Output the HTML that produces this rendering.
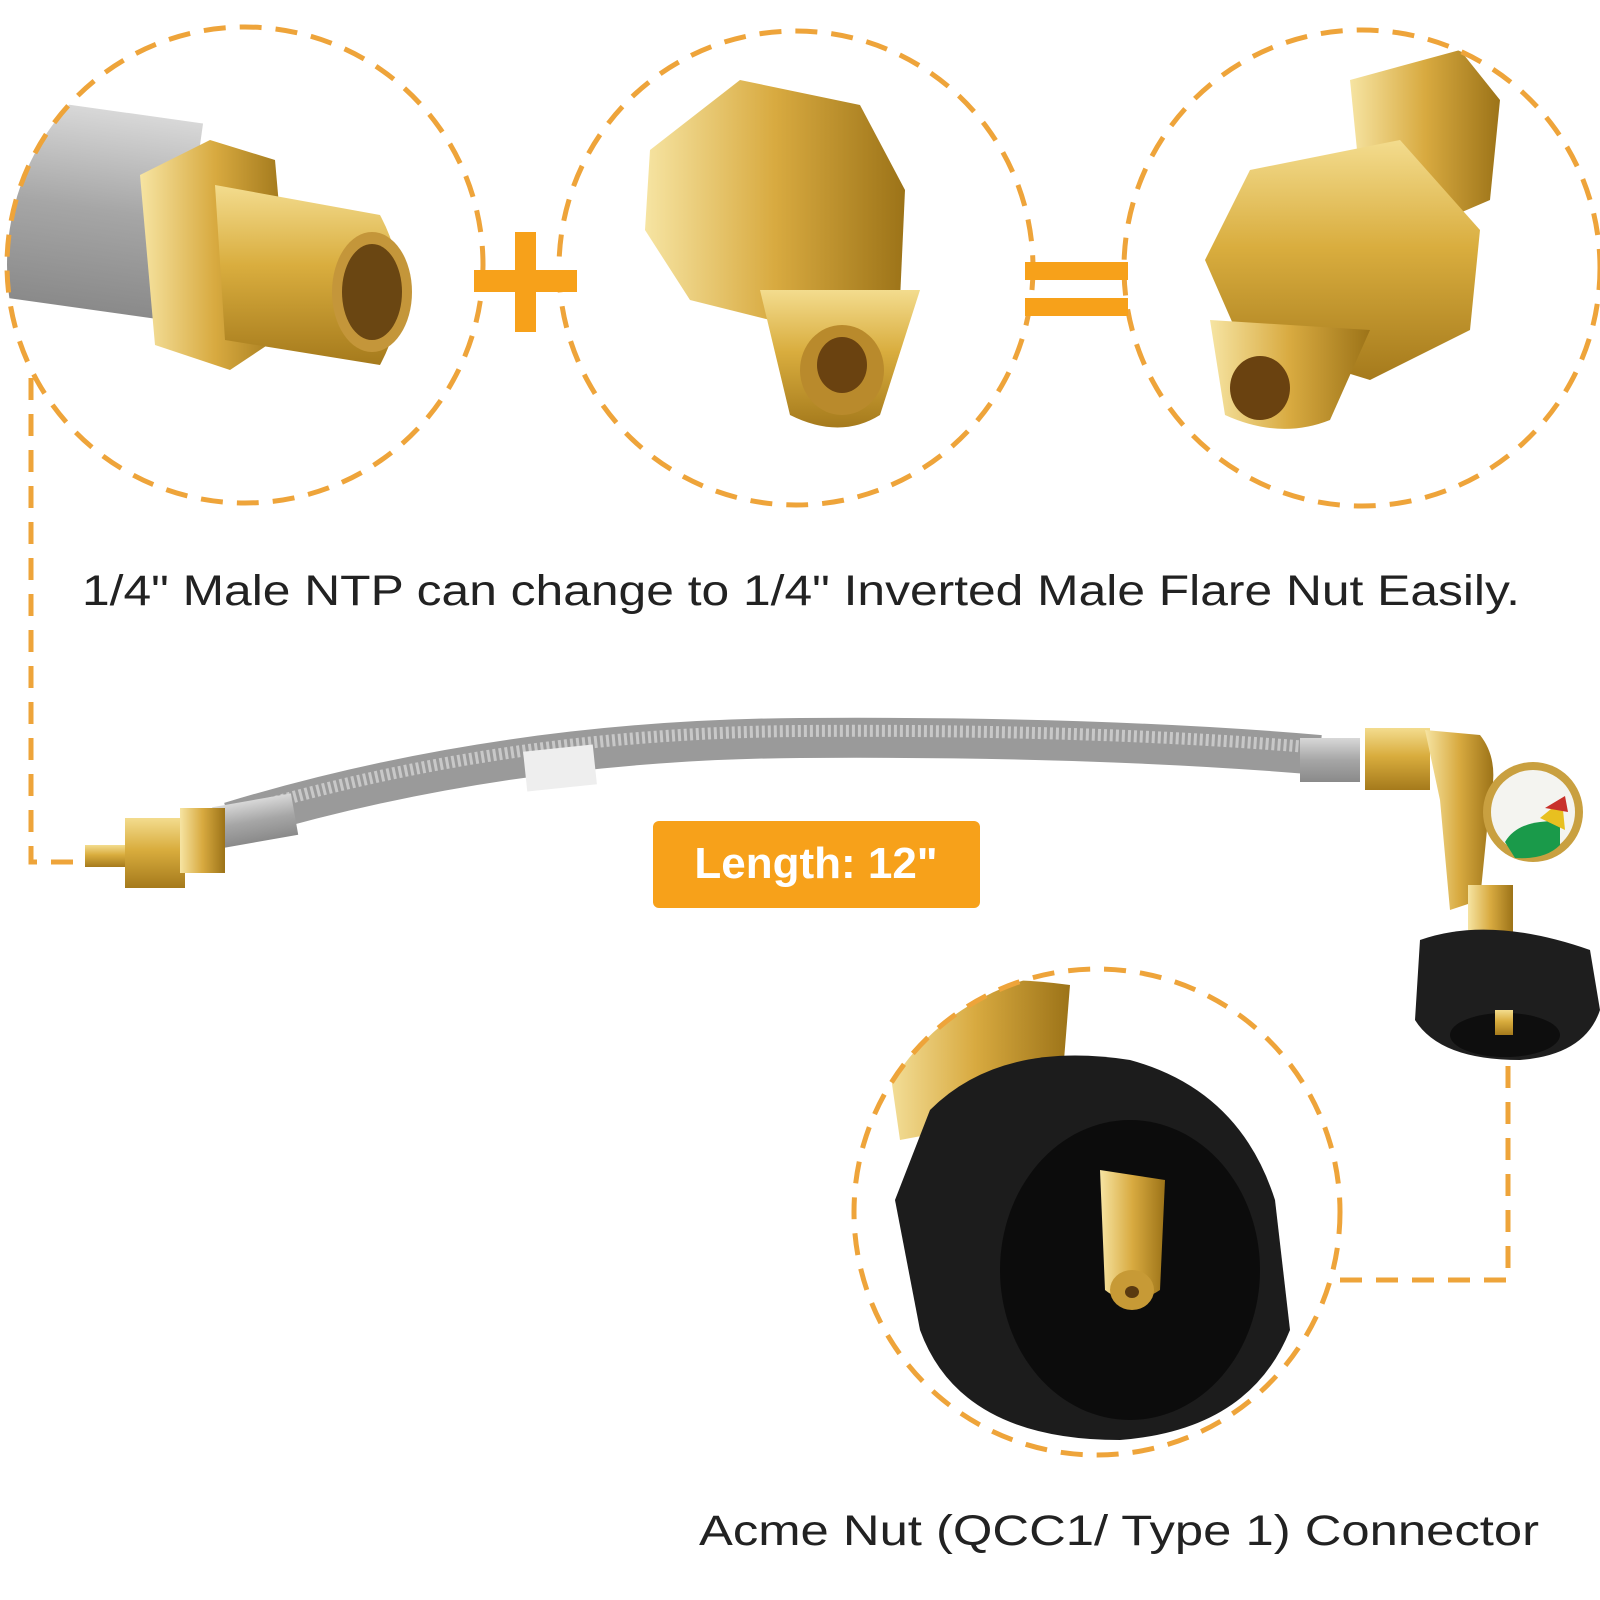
<!DOCTYPE html>
<html><head><meta charset="utf-8"><style>
html,body{margin:0;padding:0;background:#fff}
svg{display:block}
text{font-family:"Liberation Sans",Arial,sans-serif}
</style></head><body>
<svg width="1600" height="1600" viewBox="0 0 1600 1600" xmlns="http://www.w3.org/2000/svg">
<defs>
<linearGradient id="brass" x1="0" y1="0" x2="0" y2="1">
<stop offset="0" stop-color="#f3dc8e"/><stop offset="0.45" stop-color="#d9ad3e"/><stop offset="1" stop-color="#a57a1c"/></linearGradient>
<linearGradient id="brassH" x1="0" y1="0" x2="1" y2="0">
<stop offset="0" stop-color="#f6e4a2"/><stop offset="0.5" stop-color="#d8aa40"/><stop offset="1" stop-color="#9c7318"/></linearGradient>
<linearGradient id="silver" x1="0" y1="0" x2="0" y2="1">
<stop offset="0" stop-color="#d8d8d8"/><stop offset="0.5" stop-color="#a6a6a6"/><stop offset="1" stop-color="#8a8a8a"/></linearGradient>
<clipPath id="c1"><circle cx="245" cy="265" r="238"/></clipPath>
<clipPath id="c3"><circle cx="1362" cy="268" r="238"/></clipPath>
<clipPath id="c4"><circle cx="1097" cy="1212" r="243"/></clipPath>
</defs>

<g clip-path="url(#c1)">
<rect x="0" y="110" width="190" height="200" fill="url(#silver)" transform="rotate(8 100 210)"/>
<polygon points="140,175 210,140 275,160 290,330 230,370 155,345" fill="url(#brassH)"/>
<path d="M215,185 L380,215 Q420,290 380,365 L225,340 Z" fill="url(#brass)"/>
<ellipse cx="372" cy="292" rx="40" ry="60" fill="#c4963a"/>
<ellipse cx="372" cy="292" rx="30" ry="48" fill="#6a4612"/>
</g>
<circle cx="245" cy="265" r="238" fill="none" stroke="#eea43a" stroke-width="5" stroke-dasharray="22 14"/>

<polygon points="650,150 740,80 860,105 905,190 900,300 810,330 690,300 645,230" fill="url(#brassH)"/>
<path d="M760,290 L920,290 L880,415 Q840,440 790,415 Z" fill="url(#brass)"/>
<ellipse cx="842" cy="370" rx="42" ry="45" fill="#b98a2c"/>
<ellipse cx="842" cy="365" rx="25" ry="28" fill="#6a4210"/>
<circle cx="796" cy="268" r="237" fill="none" stroke="#eea43a" stroke-width="5" stroke-dasharray="22 14"/>

<g clip-path="url(#c3)">
<polygon points="1350,80 1460,50 1500,100 1490,200 1420,230 1360,180" fill="url(#brassH)"/>
<polygon points="1250,170 1400,140 1480,230 1470,330 1370,380 1240,340 1205,260" fill="url(#brass)"/>
<path d="M1210,320 L1370,330 L1330,420 Q1280,440 1225,415 Z" fill="url(#brassH)"/>
<ellipse cx="1260" cy="388" rx="30" ry="32" fill="#6a4210"/>
</g>
<circle cx="1362" cy="268" r="238" fill="none" stroke="#eea43a" stroke-width="5" stroke-dasharray="22 14"/>

<rect x="474" y="270" width="103" height="22" fill="#f7a11a"/>
<rect x="515" y="232" width="21" height="100" fill="#f7a11a"/>
<rect x="1025" y="262" width="103" height="18" fill="#f7a11a"/>
<rect x="1025" y="298" width="103" height="18" fill="#f7a11a"/>

<text x="82" y="605" font-size="43" fill="#222" textLength="1438" lengthAdjust="spacingAndGlyphs">1/4" Male NTP can change to 1/4" Inverted Male Flare Nut Easily.</text>

<path d="M31,378 L31,862 L80,862" fill="none" stroke="#eea43a" stroke-width="5" stroke-dasharray="22 14"/>
<path d="M1508,1030 L1508,1280 L1337,1280" fill="none" stroke="#eea43a" stroke-width="5" stroke-dasharray="22 14"/>

<path d="M230,822 Q500,740 800,738 Q1100,736 1320,755" fill="none" stroke="#9a9a9a" stroke-width="40"/>
<path d="M230,815 Q500,733 800,731 Q1100,729 1320,748" fill="none" stroke="#c8c8c8" stroke-width="12" stroke-dasharray="3 3"/>
<rect x="525" y="748" width="70" height="40" fill="#eee" transform="rotate(-6 560 768)"/>
<rect x="215" y="800" width="80" height="42" fill="url(#silver)" transform="rotate(-10 255 820)"/>
<rect x="1300" y="738" width="60" height="44" fill="url(#silver)"/>
<rect x="85" y="845" width="50" height="22" fill="url(#brass)"/>
<rect x="125" y="818" width="60" height="70" fill="url(#brass)"/>
<rect x="180" y="808" width="45" height="65" fill="url(#brassH)"/>
<rect x="1365" y="728" width="65" height="62" fill="url(#brass)"/>
<path d="M1425,730 L1480,735 Q1500,760 1490,800 L1480,900 L1450,910 L1440,800 Z" fill="url(#brassH)"/>
<circle cx="1533" cy="812" r="50" fill="#c9a040"/>
<circle cx="1533" cy="812" r="42" fill="#f4f4f0"/>
<path d="M1505,842 Q1515,825 1540,822 L1560,820 L1560,845 Q1545,860 1515,858 Z" fill="#1a9a4a"/>
<path d="M1540,818 L1562,800 L1565,830 Z" fill="#e8c020"/>
<path d="M1545,808 L1565,796 L1568,812 Z" fill="#c8302a"/>
<rect x="1468" y="885" width="45" height="50" fill="url(#brassH)"/>
<path d="M1420,940 Q1490,915 1590,950 L1600,1010 Q1585,1055 1520,1060 Q1440,1060 1415,1020 Z" fill="#1e1e1e"/>
<ellipse cx="1505" cy="1035" rx="55" ry="22" fill="#0e0e0e"/>
<rect x="1495" y="1010" width="18" height="25" fill="url(#brass)"/>

<rect x="653" y="821" width="327" height="87" rx="6" fill="#f7a11a"/>
<text x="816" y="878" font-size="44" font-weight="bold" fill="#fff" text-anchor="middle">Length: 12"</text>

<g clip-path="url(#c4)">
<path d="M880,1000 Q960,970 1070,985 L1060,1110 L900,1140 Z" fill="url(#brassH)"/>
<path d="M930,1110 Q1000,1040 1130,1060 Q1240,1090 1275,1200 L1290,1330 Q1250,1430 1120,1440 Q960,1440 920,1330 L895,1200 Z" fill="#1c1c1c"/>
<ellipse cx="1130" cy="1270" rx="130" ry="150" fill="#0c0c0c"/>
<path d="M1100,1170 L1165,1180 L1160,1290 Q1130,1310 1105,1290 Z" fill="url(#brassH)"/>
<ellipse cx="1132" cy="1290" rx="22" ry="20" fill="#c79a36"/>
<ellipse cx="1132" cy="1292" rx="7" ry="6" fill="#5a3a10"/>
</g>
<circle cx="1097" cy="1212" r="243" fill="none" stroke="#eea43a" stroke-width="5" stroke-dasharray="22 14"/>

<text x="699" y="1545" font-size="43" fill="#222" textLength="840" lengthAdjust="spacingAndGlyphs">Acme Nut (QCC1/ Type 1) Connector</text>
</svg>
</body></html>
